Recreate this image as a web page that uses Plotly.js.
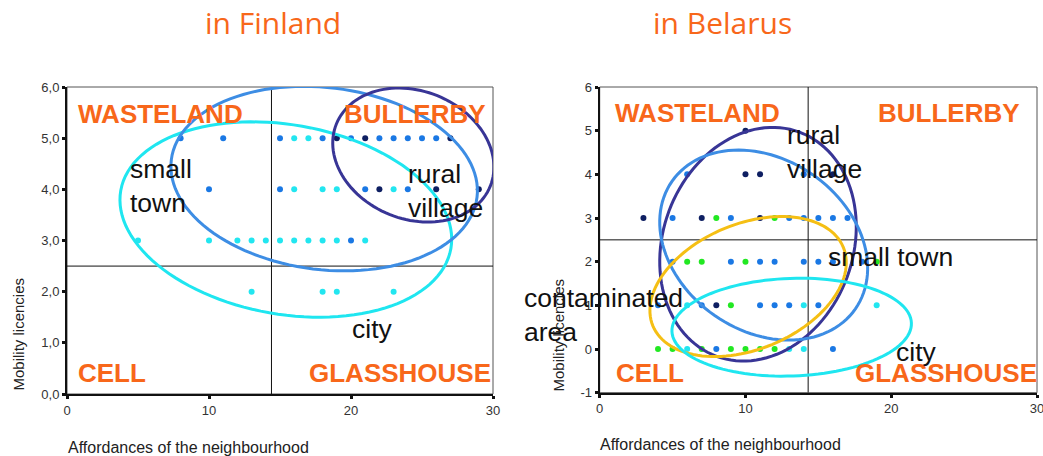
<!DOCTYPE html>
<html>
<head>
<meta charset="utf-8">
<script src="https://cdn.plot.ly/plotly-3.0.1.min.js"></script>
<style>html,body{margin:0;padding:0;background:#fff;}#chart{width:1043px;height:456px;}</style>
</head>
<body>
<div id="chart"></div>
<script>
// ---------- DATA: Finland ----------
const finCityX  = [16,17,16,18,19,23,5,10,12,13,14,15,16,17,18,19,21,13,18,19,23];
const finCityY  = [5,5,4,4,4,4,3,3,3,3,3,3,3,3,3,3,3,2,2,2,2];
const finTownX  = [8,11,15,18,20,22,23,24,25,26,10,15,21,24,20];
const finTownY  = [5,5,5,5,5,5,5,5,5,5,4,4,4,4,3];
const finRuralX = [19,21,27,22,26,29];
const finRuralY = [5,5,5,4,4,4];

// ---------- DATA: Belarus ----------
const belCityX  = [6,14,19,6,13,14];
const belCityY  = [1,1,1,0,0,0];
const belTownX  = [6,14,5,9,13,14,15,16,17,5,9,11,12,14,15,16,18,4,7,11,12,13,15,8,16];
const belTownY  = [4,4,3,3,3,3,3,3,3,2,2,2,2,2,2,2,2,1,1,1,1,1,1,0,0];
const belRuralX = [10,10,11,16,3,7,11,8];
const belRuralY = [5,4,4,4,3,3,3,1];
const belContX  = [8,12,6,7,10,19,9,4,5,7,9,10,11,12];
const belContY  = [3,3,2,2,2,2,1,0,0,0,0,0,0,0];

// ---------- Ticks / labels ----------
const xTickVals = [0,10,20,30];
const finYTickVals = [0,1,2,3,4,5,6];
const finYTickText = ['0,0','1,0','2,0','3,0','4,0','5,0','6,0'];
const belYTickVals = [-1,0,1,2,3,4,5,6];
const belYTickText = ['-1','0','1','2','3','4','5','6'];
const quadrantNames = ['WASTELAND','BULLERBY','CELL','GLASSHOUSE'];
const chartTitles = ['in Finland','in Belarus'];
const xTitle = 'Affordances of the neighbourhood';
const yTitle = 'Mobility licencies';
const finSplitX = 14.4, belSplitX = 14.3, splitY = 2.5;

// group ellipses: [centerX, centerY, semiA(px), semiB(px), angle(deg)]
const finEllipseCity  = [15.41, 3.41, 167.6, 94.7, 10];
const finEllipseTown  = [18.11, 4.21, 154, 91, 7];
const finEllipseRural = [24.39, 4.67, 83, 64, 22];
const belEllipseRural = [10.86, 2.40, 119.5, 95, -69.7];
const belEllipseTown  = [11.25, 2.38, 111.7, 85.8, 34.8];
const belEllipseCont  = [10.18, 1.43, 103, 62.7, -22.4];
const belEllipseCity  = [13.17, 0.50, 119.8, 48.8, -2];

// ---------- Style ----------
const W = 1043, H = 456;
const C_CITY = '#22e6f0', C_TOWN = '#1a78e4', C_RURAL = '#0e1f62', C_CONT = '#22e822';
const E_CITY = '#1fe6f0', E_TOWN = '#3d8de4', E_RURAL = '#383596', E_CONT = '#f5bf14';
const ORANGE = '#f8671a';
const FONT = 'Arial, "Liberation Sans", sans-serif';

const dom = {
  x:  [67/W, 493/W],
  y:  [(H-394)/H, (H-87)/H],
  x2: [599.7/W, 1037/W],
  y2: [(H-392.7)/H, (H-87)/H]
};
const ranges = { x:[0,30], y:[0,6], x2:[0,30], y2:[-1,6] };

function scale(axDom, rng, total){ return (axDom[1]-axDom[0])*total/(rng[1]-rng[0]); }
function toPaper(ax, v){
  const d = dom[ax], r = ranges[ax];
  return d[0] + (v - r[0])/(r[1]-r[0])*(d[1]-d[0]);
}

function ellipsePath(e, xr, yr){
  const sx = scale(dom[xr], ranges[xr], W);
  const sy = scale(dom[yr], ranges[yr], H);
  const [cx, cy, a, b, deg] = e;
  const th = deg*Math.PI/180;
  let p = '';
  for (let i = 0; i <= 120; i++){
    const t = i/120*2*Math.PI;
    const px = a*Math.cos(t)*Math.cos(th) - b*Math.sin(t)*Math.sin(th);
    const py = a*Math.cos(t)*Math.sin(th) + b*Math.sin(t)*Math.cos(th);
    const x = cx + px/sx, y = cy - py/sy;
    p += (i === 0 ? 'M' : 'L') + x.toFixed(4) + ',' + y.toFixed(4);
  }
  return p + 'Z';
}

function pts(x, y, color, xa, ya){
  return {type:'scatter', mode:'markers', x:x, y:y, xaxis:xa, yaxis:ya,
    marker:{color:color, size:6}, cliponaxis:false, hoverinfo:'x+y'};
}

const traces = [
  pts(finCityX, finCityY, C_CITY, 'x', 'y'),
  pts(finTownX, finTownY, C_TOWN, 'x', 'y'),
  pts(finRuralX, finRuralY, C_RURAL, 'x', 'y'),
  pts(belCityX, belCityY, C_CITY, 'x2', 'y2'),
  pts(belTownX, belTownY, C_TOWN, 'x2', 'y2'),
  pts(belRuralX, belRuralY, C_RURAL, 'x2', 'y2'),
  pts(belContX, belContY, C_CONT, 'x2', 'y2')
];

function ell(e, color, xr, yr){
  return {type:'path', xref:xr, yref:yr, path:ellipsePath(e, xr, yr),
    line:{color:color, width:3}, layer:'above'};
}
function line(x0,y0,x1,y1,xr,yr){
  return {type:'line', xref:xr, yref:yr, x0:x0, y0:y0, x1:x1, y1:y1,
    line:{color:'#111', width:1}, layer:'below'};
}
function frame(xr, yr){
  return {type:'rect', xref:xr+' domain', yref:yr+' domain', x0:0, x1:1, y0:0, y1:1,
    line:{color:'#555', width:1}, layer:'below'};
}

const shapes = [
  frame('x','y'), frame('x2','y2'),
  line(finSplitX, 0, finSplitX, 6, 'x', 'y'),
  line(0, splitY, 30, splitY, 'x', 'y'),
  line(belSplitX, -1, belSplitX, 6, 'x2', 'y2'),
  line(0, splitY, 30, splitY, 'x2', 'y2'),
  ell(finEllipseCity, E_CITY, 'x', 'y'),
  ell(finEllipseTown, E_TOWN, 'x', 'y'),
  ell(finEllipseRural, E_RURAL, 'x', 'y'),
  ell(belEllipseRural, E_RURAL, 'x2', 'y2'),
  ell(belEllipseTown, E_TOWN, 'x2', 'y2'),
  ell(belEllipseCont, E_CONT, 'x2', 'y2'),
  ell(belEllipseCity, E_CITY, 'x2', 'y2')
];

function quad(text, x, y, xa, ya, anchor){
  return {text:text, x:toPaper(xa, x), y:toPaper(ya, y), xref:'paper', yref:'paper',
    xanchor:anchor, yanchor:'middle',
    showarrow:false, font:{family:FONT, size:26, color:ORANGE, weight:'bold'}};
}
function lbl(text, x, y, xa, ya){
  return {text:text, x:toPaper(xa, x), y:toPaper(ya, y), xref:'paper', yref:'paper',
    xanchor:'left', yanchor:'middle',
    showarrow:false, align:'left', font:{family:FONT, size:26.5, color:'#111'}};
}
function paperText(text, x, y, anchor, size, color, family, angle){
  return {text:text, x:x, y:y, xref:'paper', yref:'paper', xanchor:anchor, yanchor:'middle',
    showarrow:false, textangle:angle||0, font:{family:family, size:size, color:color}};
}

const annotations = [
  quad(quadrantNames[0], 0.63, 5.47, 'x', 'y', 'left'),
  quad(quadrantNames[1], 29.67, 5.47, 'x', 'y', 'right'),
  quad(quadrantNames[2], 0.63, 0.42, 'x', 'y', 'left'),
  quad(quadrantNames[3], 30.0, 0.42, 'x', 'y', 'right'),
  quad(quadrantNames[0], 0.93, 5.4, 'x2', 'y2', 'left'),
  quad(quadrantNames[1], 28.97, 5.4, 'x2', 'y2', 'right'),
  quad(quadrantNames[2], 0.98, -0.55, 'x2', 'y2', 'left'),
  quad(quadrantNames[3], 30.16, -0.55, 'x2', 'y2', 'right'),
  lbl('small<br>town', 4.3, 4.06, 'x', 'y'),
  lbl('rural<br>village', 23.9, 3.97, 'x', 'y'),
  lbl('city', 19.9, 1.27, 'x', 'y'),
  lbl('rural<br>village', 12.7, 4.51, 'x2', 'y2'),
  lbl('small town', 15.5, 2.1, 'x2', 'y2'),
  lbl('contaminated<br>area', -5.35, 0.78, 'x2', 'y2'),
  lbl('city', 20.2, -0.07, 'x2', 'y2'),
  paperText(chartTitles[0], 273/W, (H-23)/H, 'center', 30, ORANGE, '"Open Sans", sans-serif'),
  paperText(chartTitles[1], 722/W, (H-23)/H, 'center', 30, ORANGE, '"Open Sans", sans-serif'),
  paperText(yTitle, 17.5/W, (H-334)/H, 'center', 15, '#222', FONT, -90),
  paperText(yTitle, 557.5/W, (H-335)/H, 'center', 15, '#222', FONT, -90),
  paperText(xTitle, 66/W, (H-447)/H, 'left', 16, '#222', FONT),
  paperText(xTitle, 598.3/W, (H-444)/H, 'left', 16, '#222', FONT)
];

function axis(d, r, extra){
  return Object.assign({domain:d, range:r, showgrid:false, zeroline:false,
    showline:true, linecolor:'#111', linewidth:2, ticks:'outside', ticklen:3, tickwidth:3,
    tickcolor:'#111', tickfont:{family:FONT, size:13, color:'#333'}, fixedrange:true,
    ticklabeloverflow:'allow'}, extra);
}

const layout = {
  width:W, height:H, margin:{l:0, r:0, t:0, b:0},
  paper_bgcolor:'#fff', plot_bgcolor:'#fff', showlegend:false,
  xaxis:  axis(dom.x,  ranges.x,  {anchor:'y',  tickvals:xTickVals}),
  yaxis:  axis(dom.y,  ranges.y,  {anchor:'x',  tickvals:finYTickVals, ticktext:finYTickText}),
  xaxis2: axis(dom.x2, ranges.x2, {anchor:'y2', tickvals:xTickVals}),
  yaxis2: axis(dom.y2, ranges.y2, {anchor:'x2', tickvals:belYTickVals, ticktext:belYTickText}),
  shapes:shapes, annotations:annotations
};

Plotly.newPlot('chart', traces, layout, {staticPlot:true, displayModeBar:false});
</script>
</body>
</html>
